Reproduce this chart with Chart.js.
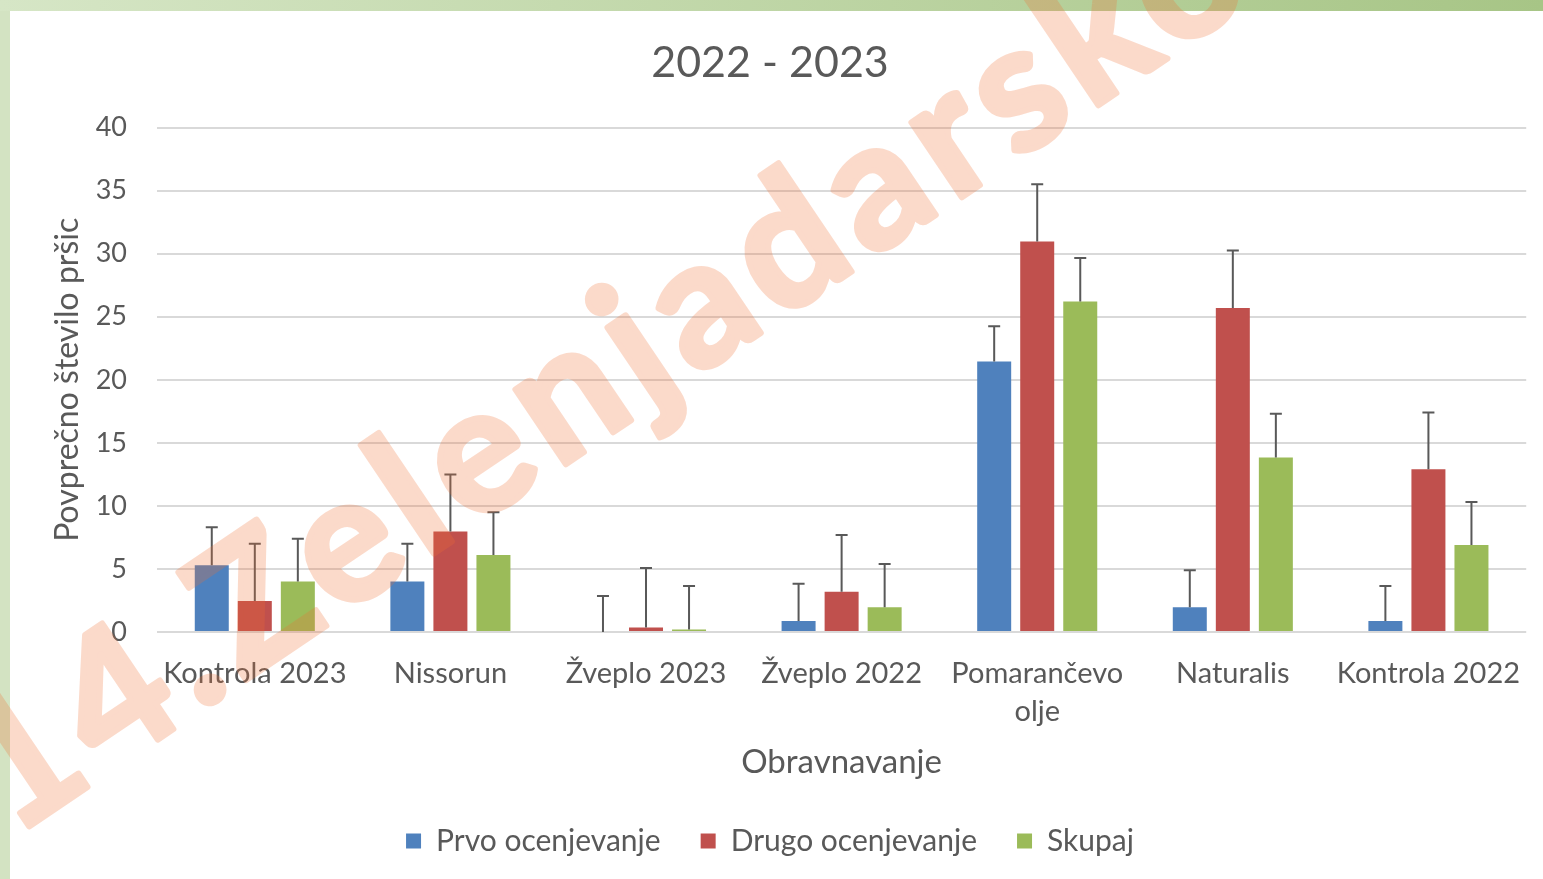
<!DOCTYPE html>
<html>
<head>
<meta charset="utf-8">
<script src="https://cdn.jsdelivr.net/npm/chart.js@4/dist/chart.umd.min.js"></script>
<style>
  html, body { margin: 0; padding: 0; overflow: hidden; background: #ffffff; }
  #wrap { position: relative; width: 1543px; height: 879px; }
</style>
</head>
<body>
<div id="wrap"><canvas id="c"></canvas></div>
<script>
// ---- data ----
const categories = ['Kontrola 2023', 'Nissorun', 'Žveplo 2023', 'Žveplo 2022', ['Pomarančevo', 'olje'], 'Naturalis', 'Kontrola 2022'];
const seriesNames = ['Prvo ocenjevanje', 'Drugo ocenjevanje', 'Skupaj'];
const prvo      = [5.3, 4.0, 0, 0.87, 21.45, 1.96, 0.87];
const prvoErr   = [3.0, 3.0, 2.85, 2.96, 2.79, 2.94, 2.77];
const drugo     = [2.46, 7.97, 0.35, 3.2, 30.97, 25.7, 12.9];
const drugoErr  = [4.54, 4.53, 4.72, 4.5, 4.53, 4.56, 4.5];
const skupaj    = [4.0, 6.1, 0.2, 1.96, 26.2, 13.84, 6.9];
const skupajErr = [3.4, 3.4, 3.44, 3.43, 3.45, 3.46, 3.4];
const titleText = '2022 - 2023';
const yTitle = 'Povprečno število pršic';
const xTitle = 'Obravnavanje';
const watermarkText = '14.Zelenjadarsko';

const FONT = 'Lato, "Open Sans", sans-serif';
const TXT = '#595959';

const bgPlugin = {
  id: 'bg',
  beforeDraw(chart) {
    const {ctx, width, height} = chart;
    ctx.save();
    ctx.fillStyle = '#D3E3C2';
    ctx.fillRect(0, 0, width, height);
    const g = ctx.createLinearGradient(0, 0, width, 0);
    g.addColorStop(0, '#D6E6C6');
    g.addColorStop(1, '#A7C586');
    ctx.fillStyle = g;
    ctx.fillRect(0, 0, width, 11);
    ctx.fillStyle = '#FFFFFF';
    ctx.fillRect(10, 11, width - 10, height - 11);
    ctx.restore();
  }
};

const errorBars = {
  id: 'errorBars',
  afterDatasetsDraw(chart) {
    const {ctx} = chart;
    const y = chart.scales.y;
    chart.data.datasets.forEach((ds, i) => {
      const meta = chart.getDatasetMeta(i);
      meta.data.forEach((bar, j) => {
        const v = ds.data[j], e = ds.errors[j];
        const base = y.getPixelForValue(v);
        const top = y.getPixelForValue(v + e);
        ctx.save();
        ctx.strokeStyle = '#595959';
        ctx.lineWidth = 2;
        ctx.beginPath();
        ctx.moveTo(bar.x, base);
        ctx.lineTo(bar.x, top);
        ctx.moveTo(bar.x - 6, top);
        ctx.lineTo(bar.x + 6, top);
        ctx.stroke();
        ctx.restore();
      });
    });
  }
};

const watermark = {
  id: 'watermark',
  afterDraw(chart) {
    const {ctx, width, height} = chart;
    const off = document.createElement('canvas');
    off.width = width; off.height = height;
    const o = off.getContext('2d');
    const a = 34 * Math.PI / 180;
    o.translate(12, 838);
    o.rotate(-a);
    o.font = 'bold 176px ' + FONT;
    if ('letterSpacing' in o) o.letterSpacing = '11px';
    o.fillStyle = '#F06E32';
    o.strokeStyle = '#F06E32';
    o.lineWidth = 6;
    o.lineJoin = 'round';
    o.textBaseline = 'alphabetic';
    o.fillText(watermarkText, 0, 0);
    o.strokeText(watermarkText, 0, 0);
    ctx.save();
    ctx.globalAlpha = 0.25;
    ctx.drawImage(off, 0, 0);
    ctx.restore();
  }
};

new Chart(document.getElementById('c'), {
  type: 'bar',
  data: {
    labels: categories,
    datasets: [
      { label: seriesNames[0], data: prvo, errors: prvoErr, backgroundColor: '#4F81BD' },
      { label: seriesNames[1], data: drugo, errors: drugoErr, backgroundColor: '#C0504D' },
      { label: seriesNames[2], data: skupaj, errors: skupajErr, backgroundColor: '#9BBB59' }
    ]
  },
  options: {
    responsive: true,
    maintainAspectRatio: false,
    animation: false,
    categoryPercentage: 0.66,
    barPercentage: 0.79,
    layout: { padding: { left: 10, right: 13, top: 10, bottom: 13 } },
    plugins: {
      tooltip: { enabled: false },
      title: {
        display: true,
        text: titleText,
        color: TXT,
        font: { family: FONT, size: 43, weight: 'normal', lineHeight: 1.2 },
        padding: { top: 27, bottom: 39 }
      },
      legend: {
        position: 'bottom',
        labels: {
          color: TXT,
          font: { family: FONT, size: 30 },
          boxWidth: 15,
          boxHeight: 15,
          padding: 40
        }
      }
    },
    scales: {
      x: {
        grid: { display: false, drawTicks: false },
        border: { display: false },
        ticks: { color: TXT, font: { family: FONT, size: 29, lineHeight: 1.33 }, padding: 22, maxRotation: 0, autoSkip: false },
        title: { display: true, text: xTitle, color: TXT, font: { family: FONT, size: 33, lineHeight: 1.2 }, padding: { top: 0, bottom: 4 } },
        afterFit(scale) { scale.height = 154; }
      },
      y: {
        min: 0, max: 40,
        grid: { color: '#D9D9D9', lineWidth: 2, drawTicks: false },
        border: { display: false },
        ticks: { stepSize: 5, color: TXT, font: { family: FONT, size: 27 }, padding: 30 },
        title: { display: true, text: yTitle, color: TXT, font: { family: FONT, size: 32, lineHeight: 1.2 }, padding: { top: 38, bottom: 0 } },
        afterFit(scale) { scale.width = 147; }
      }
    }
  },
  plugins: [bgPlugin, errorBars, watermark]
});
</script>
</body>
</html>
